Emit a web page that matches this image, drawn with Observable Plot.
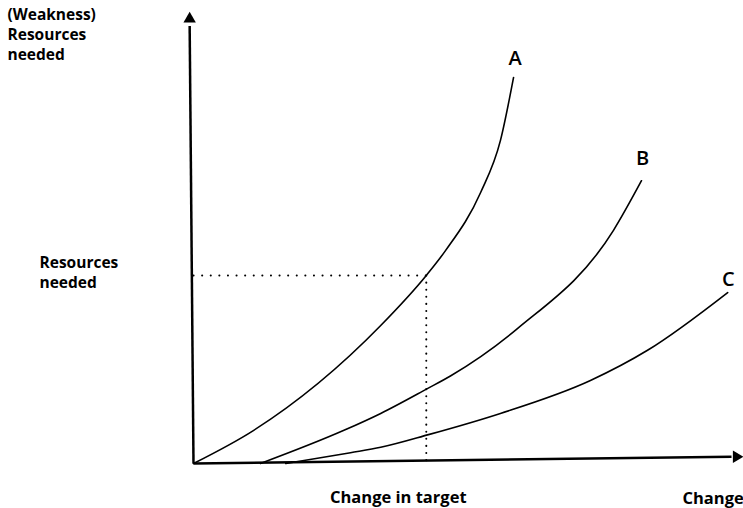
<!DOCTYPE html>
<html>
<head>
<meta charset="utf-8">
<script src="https://cdn.jsdelivr.net/npm/d3@7"></script>
<script src="https://cdn.jsdelivr.net/npm/@observablehq/plot@0.6"></script>
<style>
  html, body { margin: 0; padding: 0; background: #fff; }
  #chart svg { display: block; }
</style>
</head>
<body>
<div id="chart"></div>
<script>
// Curve data (conceptual units: x = change, y = resources needed)
const curveA = [[0,0],[10.9,7.3],[34.1,30.6],[42.4,41.7],[45.9,47.2],[52.3,60.1],[55.9,71.6],[58.3,85.6]];
const curveB = [[12.2,0],[27.3,7.3],[34.1,11.1],[42.6,16.6],[46.8,19.4],[59.0,29.9],[76.5,51.7],[81.6,62.7]];
const curveC = [[16.8,0],[28.6,2.4],[34.1,3.6],[42.8,6.4],[55.9,11.1],[72.3,18.4],[82.7,25.1],[97.3,37.9]];
const seriesNames = ["A", "B", "C"];
const seriesEnds = [[58.6, 89.8], [81.8, 67.6], [97.4, 40.8]];
const target = {x: 42.4, y: 41.7};
const yTitle = ["(Weakness)", "Resources", "needed"];
const yTargetLabel = ["Resources", "needed"];
const xTargetLabel = "Change in target";
const xTitle = "Change";

const lines = [
  ...curveA.map(([x, y]) => ({s: "A", x, y})),
  ...curveB.map(([x, y]) => ({s: "B", x, y})),
  ...curveC.map(([x, y]) => ({s: "C", x, y}))
];
const labels = seriesNames.map((n, i) => ({n, x: seriesEnds[i][0], y: seriesEnds[i][1]}));

const font = "'Open Sans', sans-serif";

const chart = Plot.plot({
  width: 743,
  height: 508,
  marginLeft: 193,
  marginRight: 1,
  marginTop: 12,
  marginBottom: 45,
  x: {domain: [0, 100], axis: null},
  y: {domain: [0, 100], axis: null},
  style: {fontFamily: font, background: "#fff", color: "#000", overflow: "hidden"},
  marks: [
    // dotted guide lines
    Plot.link([target], {x1: 0, y1: "y", x2: "x", y2: "y", stroke: "#000", strokeWidth: 2, strokeDasharray: "0.1,8.5", strokeLinecap: "round"}),
    Plot.link([target], {x1: "x", y1: "y", x2: "x", y2: 0, stroke: "#000", strokeWidth: 2, strokeDasharray: "0.1,7", strokeLinecap: "round"}),
    // axes
    Plot.link([{x1: 0, y1: 0, x2: -0.7, y2: 97}], {x1: "x1", y1: "y1", x2: "x2", y2: "y2", stroke: "#000", strokeWidth: 2.5}),
    Plot.link([{x1: 0, y1: 0, x2: 98, y2: 1.5}], {x1: "x1", y1: "y1", x2: "x2", y2: "y2", stroke: "#000", strokeWidth: 2.5}),
    Plot.dot([{x: -0.7, y: 98.6}], {x: "x", y: "y", symbol: "triangle", r: 4.6, fill: "#000", stroke: "none"}),
    Plot.dot([{x: 98.9, y: 1.5}], {x: "x", y: "y", symbol: "triangle", r: 4.6, fill: "#000", stroke: "none", rotate: 90}),
    // curves
    Plot.line(lines, {x: "x", y: "y", z: "s", curve: "monotone-x", stroke: "#000", strokeWidth: 1.6}),
    // curve labels
    Plot.text(labels, {x: "x", y: "y", text: "n", fontSize: 20, fontWeight: 600, fill: "#000"}),
    // y titles
    Plot.text([yTitle.join("\n")], {frameAnchor: "top-left", dx: -186, dy: -7, text: d => d, textAnchor: "start", lineAnchor: "top", fontSize: 15.5, fontWeight: 700, lineHeight: 1.3, fill: "#000"}),
    Plot.text([{y: target.y, t: yTargetLabel.join("\n")}], {x: 0, y: "y", dx: -154, dy: -4, text: "t", textAnchor: "start", lineAnchor: "middle", fontSize: 15.5, fontWeight: 700, lineHeight: 1.3, fill: "#000"}),
    // x titles
    Plot.text([{x: target.x, t: xTargetLabel}], {x: "x", y: 0, dx: -28, dy: 34, text: "t", textAnchor: "middle", lineAnchor: "middle", fontSize: 16.5, fontWeight: 700, fill: "#000"}),
    Plot.text([{t: xTitle}], {x: 0, y: 0, dx: 489, dy: 35, text: "t", textAnchor: "start", lineAnchor: "middle", fontSize: 16.5, fontWeight: 700, fill: "#000"})
  ]
});
document.getElementById("chart").appendChild(chart);
</script>
</body>
</html>
